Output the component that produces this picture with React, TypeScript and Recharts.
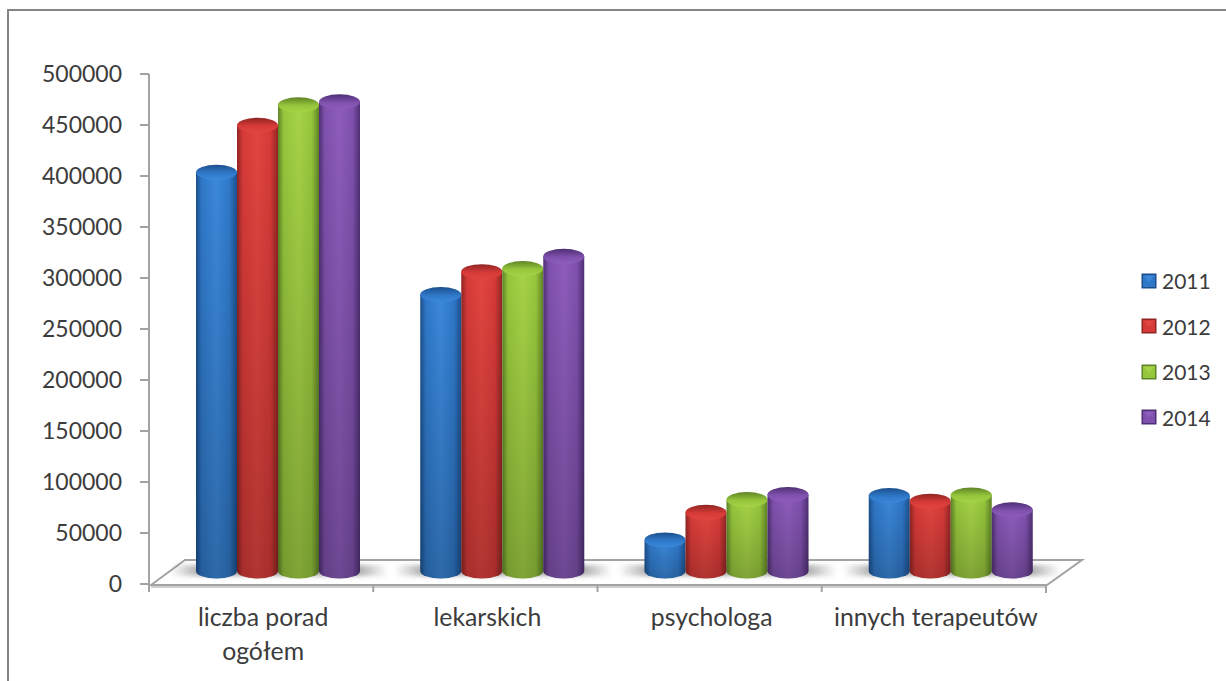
import React from 'react';
import { BarChart, Bar, XAxis, YAxis, Legend } from 'recharts';

const categories = ['liczba porad\nogółem', 'lekarskich', 'psychologa', 'innych terapeutów'];
const values2011 = [391000, 271000, 30500, 74000];
const values2012 = [437000, 293500, 57500, 68500];
const values2013 = [457000, 296500, 70000, 74500];
const values2014 = [460000, 308500, 75000, 60000];
const yTicks = [0, 50000, 100000, 150000, 200000, 250000, 300000, 350000, 400000, 450000, 500000];

const seriesNames = ['2011', '2012', '2013', '2014'];
const seriesColors = ['#2f78c8', '#d63a38', '#96c63c', '#7f51ad'];
const seriesDark = ['#1b4f8c', '#8f2523', '#5f8426', '#4f2f74'];
const seriesLight = ['#3b88da', '#e2453f', '#a6d346', '#8d5dbc'];

const chartData = categories.map((name, i) => ({
  name,
  s2011: values2011[i],
  s2012: values2012[i],
  s2013: values2013[i],
  s2014: values2014[i],
}));

const WIDTH = 1226;
const HEIGHT = 681;
// y axis (100 wide), x axis (30 high) and legend (85 wide) take their room on top of these
const MARGIN = { top: 74, right: 95, bottom: 67, left: 49 };
const BAND = (1046 - 149) / categories.length;
const GRAY = '#a3a3a3';
const TEXT = '#3c3c3c';
const FONT = 'Lato, "Open Sans", sans-serif';

// the 3d look: bars stand a bit right and up from the front edge of the floor
const DEPTH_X = 17;
const DEPTH_Y = 13;
const RY = 7.5;

const Cylinder = (props: any) => {
  const { x, y, width, height, idx } = props;
  const left = x + DEPTH_X;
  const top = y - DEPTH_Y;
  const rx = width / 2;
  const bottom = top + height;
  const body = `M${left},${top} L${left},${bottom} A${rx},${RY} 0 0 0 ${left + width},${bottom} L${left + width},${top} Z`;
  return (
    <g>
      {idx === 0 && (
        <rect
          x={left - 26}
          y={bottom - 6}
          width={width * 4 + 54}
          height={11}
          fill="url(#floorShadow)"
          filter="url(#soft)"
        />
      )}
      <path d={body} fill={`url(#body${idx})`} />
      <path d={body} fill="url(#fade)" />
      <ellipse cx={left + rx} cy={top} rx={rx} ry={RY} fill={`url(#cap${idx})`} />
    </g>
  );
};

const Floor = () => (
  <g>
    <polygon points="151,585 185,560 1082,560 1047,585" fill="#ffffff" stroke={GRAY} strokeWidth={2} />
    <line x1={151} y1={587} x2={1047} y2={587} stroke="#d0d0d0" strokeWidth={2} />
  </g>
);

const CategoryTick = (props: any) => {
  const { x, payload, index } = props;
  const edge = x - BAND / 2;
  const axisY = 584;
  const lines = String(payload.value).split('\n');
  return (
    <g>
      <line x1={edge} y1={axisY} x2={edge} y2={axisY + 8} stroke={GRAY} strokeWidth={2} />
      {index === categories.length - 1 && (
        <line x1={edge + BAND} y1={axisY + 2} x2={edge + BAND} y2={axisY + 9} stroke={GRAY} strokeWidth={2} />
      )}
      <text x={x + 2} y={axisY + 42} textAnchor="middle" fontFamily={FONT} fontSize={24.8} fill={TEXT}>
        {lines.map((line, i) => (
          <tspan key={line} x={x + 2} dy={i === 0 ? 0 : 34}>
            {line}
          </tspan>
        ))}
      </text>
    </g>
  );
};

const YearLegend = ({ payload }: any) => (
  <div>
    {(payload || []).map((entry: any, i: number) => (
      <div key={entry.value} style={{ display: 'flex', alignItems: 'center', height: 45.5 }}>
        <svg width={16} height={16} style={{ marginRight: 5 }}>
          <rect x={0.5} y={0.5} width={15} height={15} fill={seriesDark[i]} />
          <rect x={2} y={2} width={12} height={12} fill={seriesColors[i]} />
          <polygon points="3,3 13,3 8,9" fill={seriesLight[i]} />
        </svg>
        <span style={{ fontFamily: FONT, fontSize: 21, color: TEXT }}>{entry.value}</span>
      </div>
    ))}
  </div>
);

export default function App() {
  return (
    <div style={{ position: 'absolute', left: 0, top: 0, width: WIDTH, height: HEIGHT, background: '#fff', overflow: 'hidden' }}>
      <div style={{ position: 'absolute', left: 7, top: 9, right: -4, bottom: -4, border: '2px solid #858585' }} />
      <BarChart
        width={WIDTH}
        height={HEIGHT}
        data={chartData}
        margin={MARGIN}
        barCategoryGap={30}
        barGap={0}
        style={{ position: 'absolute', left: 0, top: 0 }}
      >
        <defs>
          {seriesColors.map((color, i) => (
            <React.Fragment key={color}>
              <linearGradient id={`body${i}`} x1="0" y1="0" x2="1" y2="0">
                <stop offset="0%" stopColor={seriesDark[i]} />
                <stop offset="14%" stopColor={color} />
                <stop offset="50%" stopColor={seriesLight[i]} />
                <stop offset="82%" stopColor={color} />
                <stop offset="100%" stopColor={seriesDark[i]} />
              </linearGradient>
              <linearGradient id={`cap${i}`} x1="0" y1="0" x2="0" y2="1">
                <stop offset="0%" stopColor={seriesDark[i]} />
                <stop offset="55%" stopColor={color} />
                <stop offset="100%" stopColor={seriesLight[i]} />
              </linearGradient>
            </React.Fragment>
          ))}
          <linearGradient id="fade" x1="0" y1="0" x2="0" y2="1">
            <stop offset="0%" stopColor="#000" stopOpacity={0} />
            <stop offset="100%" stopColor="#000" stopOpacity={0.22} />
          </linearGradient>
          <linearGradient id="floorShadow" x1="0" y1="0" x2="1" y2="0">
            <stop offset="0%" stopColor="#666" stopOpacity={0} />
            <stop offset="14%" stopColor="#666" stopOpacity={0.55} />
            <stop offset="86%" stopColor="#666" stopOpacity={0.55} />
            <stop offset="100%" stopColor="#666" stopOpacity={0} />
          </linearGradient>
          <filter id="soft" x="-10%" y="-50%" width="120%" height="200%">
            <feGaussianBlur stdDeviation="2" />
          </filter>
        </defs>
        <Floor />
        <XAxis
          dataKey="name"
          interval={0}
          height={30}
          axisLine={false}
          tickLine={false}
          tick={CategoryTick}
        />
        <YAxis
          domain={[0, 500000]}
          ticks={yTicks}
          interval={0}
          axisLine={{ stroke: GRAY, strokeWidth: 2 }}
          tickLine={{ stroke: GRAY, strokeWidth: 2 }}
          tickSize={9}
          tickMargin={18}
          width={100}
          tick={{ fontFamily: FONT, fontSize: 23, fill: TEXT }}
        />
        <Legend
          layout="vertical"
          align="right"
          verticalAlign="middle"
          content={<YearLegend />}
          wrapperStyle={{ left: 1141, top: 258, width: 85 }}
        />
        {seriesNames.map((name, i) => (
          <Bar
            key={name}
            dataKey={`s${name}`}
            name={name}
            fill={seriesColors[i]}
            barSize={41}
            isAnimationActive={false}
            shape={(p: any) => <Cylinder {...p} idx={i} />}
          />
        ))}
      </BarChart>
    </div>
  );
}
